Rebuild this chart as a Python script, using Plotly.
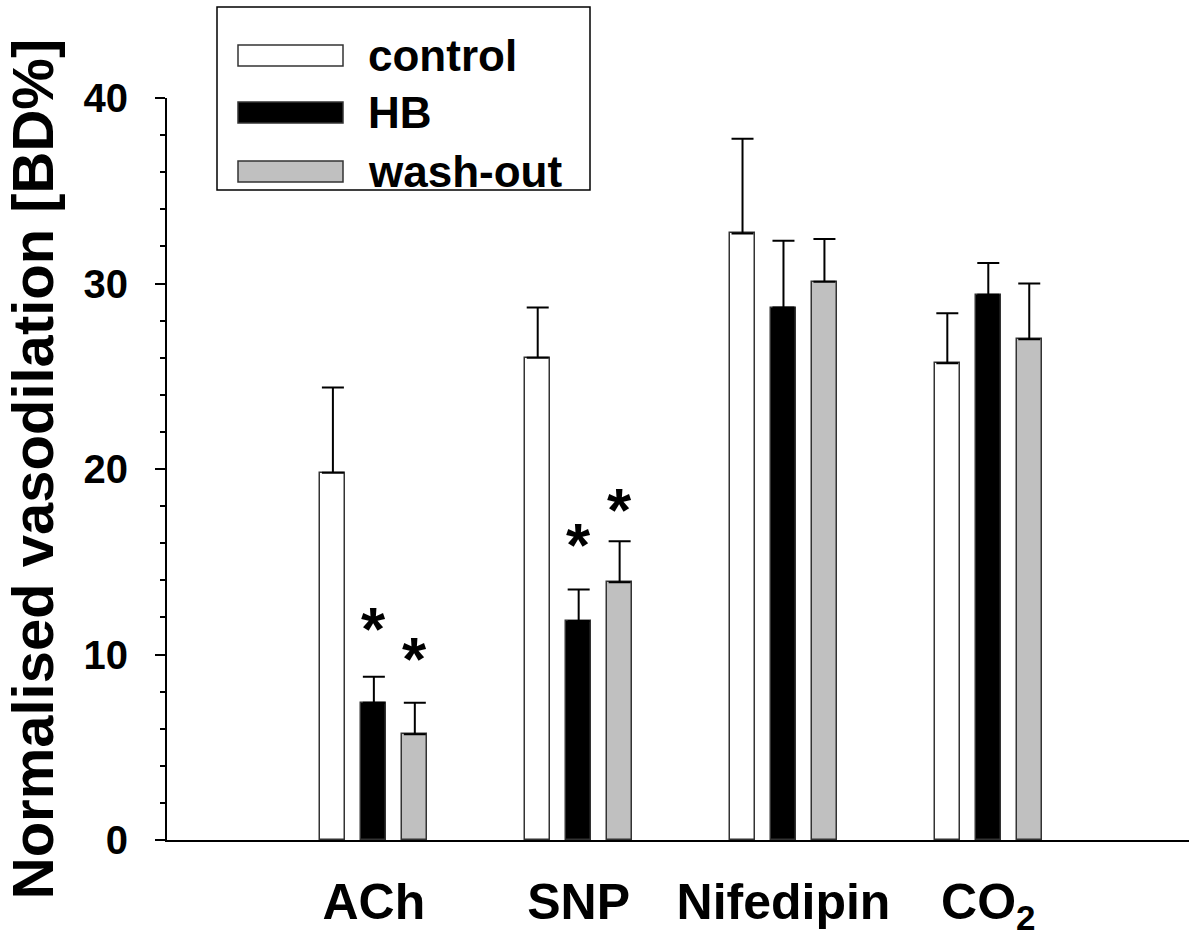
import plotly.graph_objects as go

categories = ["ACh", "SNP", "Nifedipin", "CO<sub>2</sub>"]
series_names = ["control", "HB", "wash-out"]
control = [19.8, 26.0, 32.7, 25.7]
control_top = [24.4, 28.7, 37.8, 28.4]
hb = [7.4, 11.8, 28.7, 29.4]
hb_top = [8.8, 13.5, 32.3, 31.1]
washout = [5.7, 13.9, 30.1, 27.0]
washout_top = [7.4, 16.1, 32.4, 30.0]
# significance asterisks: height (y value) of each asterisk, None = no asterisk
hb_star = [11.7, 16.2, None, None]
washout_star = [10.1, 18.1, None, None]

FONT = "Liberation Sans, Arial, sans-serif"
fills = ["white", "black", "#c0c0c0"]
values = [control, hb, washout]
tops = [control_top, hb_top, washout_top]
stars = [None, hb_star, washout_star]
offsets = [-0.2, 0.0, 0.2]
idx = list(range(len(categories)))

fig = go.Figure()
annotations = []
for k in range(3):
    xs = [i + offsets[k] for i in idx]
    err = [t - v for t, v in zip(tops[k], values[k])]
    fig.add_trace(go.Bar(
        x=xs, y=values[k], width=0.122, name=series_names[k],
        marker=dict(color=fills[k], line=dict(color="#333333", width=1.5)),
        error_y=dict(type="data", symmetric=False, array=err,
                     arrayminus=[0] * len(err), color="black",
                     thickness=2, width=11),
        showlegend=False,
    ))
    if stars[k] is not None:
        for x, s in zip(xs, stars[k]):
            if s is not None:
                annotations.append(dict(
                    x=x, y=s, xref="x", yref="y", text="<b>*</b>",
                    showarrow=False, yanchor="bottom", xanchor="center", yshift=-42,
                    font=dict(family=FONT, size=62, color="black")))

# plot-area geometry in page pixels
L, R, T, B = 167, 1189, 98, 840
W, H = 1189, 944
def px(xp):
    return (xp - L) / (R - L)
def py(yp):
    return (B - yp) / (B - T)

shapes = [dict(type="rect", xref="paper", yref="paper",
               x0=px(217), x1=px(590), y0=py(190), y1=py(7),
               line=dict(color="black", width=1.5), fillcolor="white", layer="above")]
sw_tops = [45, 102, 161]
for k in range(3):
    shapes.append(dict(type="rect", xref="paper", yref="paper",
                       x0=px(238), x1=px(343), y0=py(sw_tops[k] + 21), y1=py(sw_tops[k]),
                       line=dict(color="#333333", width=1.5), fillcolor=fills[k], layer="above"))
    annotations.append(dict(xref="paper", yref="paper", x=px(366), y=py(sw_tops[k] + 10.5),
                            xanchor="left", yanchor="middle", showarrow=False,
                            text="<b>%s</b>" % series_names[k],
                            font=dict(family=FONT, size=44, color="black")))

fig.update_layout(
    width=W, height=H,
    margin=dict(l=L, r=W - R, t=T, b=H - B),
    paper_bgcolor="white", plot_bgcolor="white",
    shapes=shapes, annotations=annotations,
    bargap=0,
)
fig.update_xaxes(
    range=[-1.01, 3.98], tickmode="array", tickvals=idx,
    ticktext=["<b>%s</b>" % c for c in categories],
    tickfont=dict(family=FONT, size=50, color="black"),
    showline=True, linecolor="black", linewidth=2,
    ticks="", showgrid=False, zeroline=False, ticklabelstandoff=17,
)
fig.update_yaxes(
    range=[0, 40], tickmode="array", tickvals=[0, 10, 20, 30, 40],
    ticktext=["<b>%d</b>" % v for v in [0, 10, 20, 30, 40]],
    tickfont=dict(family=FONT, size=40, color="black"),
    showline=True, linecolor="black", linewidth=2,
    ticks="outside", ticklen=10, tickwidth=2, tickcolor="black",
    minor=dict(dtick=2, ticks="outside", ticklen=5, tickwidth=2, tickcolor="black"),
    showgrid=False, zeroline=False, ticklabelstandoff=19,
    title=dict(text="<b>Normalised vasodilation [BD%]</b>", standoff=27,
               font=dict(family=FONT, size=58, color="black")),
)

fig.write_html("out.html", config={"displayModeBar": False},
               post_script="document.body.style.margin='0';document.body.style.overflow='hidden';")
